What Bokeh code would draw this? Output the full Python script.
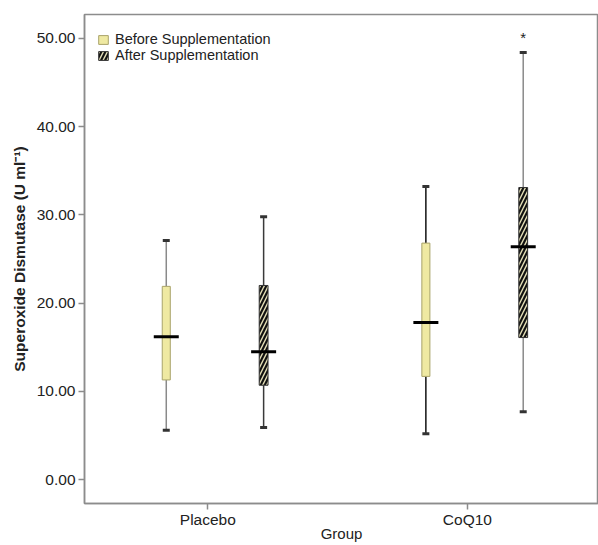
from bokeh.plotting import figure
from bokeh.models import ColumnDataSource, FixedTicker, NumeralTickFormatter, Legend, LegendItem, Range1d
from bokeh.core.properties import value
from bokeh.embed import file_html
from bokeh.resources import INLINE

groups = ["Placebo", "CoQ10"]
phases = ["Before Supplementation", "After Supplementation"]
x_title = "Group"
y_title = "Superoxide Dismutase (U ml\u207b\u00b9)"

# per box: Placebo-before, Placebo-after, CoQ10-before, CoQ10-after
box_group = [0, 0, 1, 1]
box_phase = [0, 1, 0, 1]
whisk_low = [5.6, 5.9, 5.2, 7.7]
q1 = [11.3, 10.7, 11.7, 16.1]
median = [16.2, 14.5, 17.8, 26.4]
q3 = [21.9, 22.0, 26.8, 33.1]
whisk_high = [27.1, 29.8, 33.2, 48.4]
star_value = 50.1

offsets = [-0.16, 0.215]
xs = [g + 1 + offsets[ph] for g, ph in zip(box_group, box_phase)]
whisk_col = ["#8a8a8a", "#3a3a3a", "#111111", "#8a8a8a"]

src = ColumnDataSource(dict(x=xs, lo=whisk_low, q1=q1, med=median, q3=q3, hi=whisk_high, wc=whisk_col))

p = figure(width=598, height=545, output_backend="svg", toolbar_location=None,
           x_range=Range1d(0.525, 2.505), y_range=Range1d(-2.7, 52.7),
           min_border_left=84, min_border_top=14, min_border_bottom=42, min_border_right=0)
p.xgrid.visible = False
p.ygrid.visible = False
p.outline_line_color = "#8c8c8c"
p.outline_line_width = 1.5
p.background_fill_color = "white"

# whiskers
p.segment(x0="x", y0="lo", x1="x", y1="q1", source=src, line_color="wc", line_width=1.5)
p.segment(x0="x", y0="q3", x1="x", y1="hi", source=src, line_color="wc", line_width=1.5)
# caps
p.rect(x="x", y="lo", width=7, height=3, width_units="screen", height_units="screen", source=src,
       fill_color="#333333", line_color=None)
p.rect(x="x", y="hi", width=7, height=3, width_units="screen", height_units="screen", source=src,
       fill_color="#333333", line_color=None)

bsrc = ColumnDataSource(dict(x=[xs[0], xs[2]], q1=[q1[0], q1[2]], q3=[q3[0], q3[2]]))
asrc = ColumnDataSource(dict(x=[xs[1], xs[3]], q1=[q1[1], q1[3]], q3=[q3[1], q3[3]]))
r_before = p.vbar(x="x", bottom="q1", top="q3", width=0.031, source=bsrc,
                  fill_color="#efe9a2", line_color="#a9a36a", line_width=1)
r_after = p.vbar(x="x", bottom="q1", top="q3", width=0.034, source=asrc,
                 fill_color="#111111", line_color="#333333", line_width=1,
                 hatch_pattern="right_diagonal_line", hatch_color="#e6e1b8",
                 hatch_scale=8, hatch_weight=1.4)

# medians
p.rect(x="x", y="med", width=25, height=3, width_units="screen", height_units="screen",
       source=src, fill_color="black", line_color=None)

# significance star
p.text(x=[xs[3]], y=[star_value], text=["*"], text_align="center", text_baseline="middle",
       text_font=value("Liberation Sans"), text_font_size="15px", text_color="#222222")

# axes
p.xaxis.ticker = FixedTicker(ticks=[1, 2])
p.xaxis.major_label_overrides = {1: groups[0], 2: groups[1]}
p.xaxis.axis_label = x_title
p.yaxis.ticker = FixedTicker(ticks=[0, 10, 20, 30, 40, 50])
p.yaxis.formatter = NumeralTickFormatter(format="0.00")
p.yaxis.axis_label = y_title
for ax in (p.xaxis[0], p.yaxis[0]):
    ax.axis_line_color = "#8c8c8c"
    ax.axis_line_width = 1.5
    ax.major_tick_line_color = "#8c8c8c"
    ax.major_tick_line_width = 1.5
    ax.major_tick_out = 6
    ax.major_tick_in = 0
    ax.minor_tick_line_color = None
    ax.major_label_text_font = "Liberation Sans"
    ax.major_label_text_font_size = "15.5px"
    ax.major_label_text_color = "#222222"
    ax.axis_label_text_font = "Liberation Sans"
    ax.axis_label_text_font_size = "15px"
    ax.axis_label_text_color = "#222222"
    ax.axis_label_text_font_style = "normal"
p.yaxis.axis_label_text_font_style = "bold"
p.yaxis.axis_label_text_font_size = "15.5px"
p.yaxis.axis_label_standoff = 6
p.yaxis.major_label_standoff = 3
p.xaxis.major_label_standoff = 1
p.xaxis.axis_label_standoff = -6

legend = Legend(items=[LegendItem(label=phases[0], renderers=[r_before]),
                       LegendItem(label=phases[1], renderers=[r_after])],
                location=(13, 440), border_line_color=None, background_fill_alpha=0,
                glyph_width=12, glyph_height=11, label_height=11, spacing=0, padding=0,
                margin=0, label_standoff=6,
                label_text_font="Liberation Sans", label_text_font_size="14.5px",
                label_text_color="#222222")
p.add_layout(legend)

open("out.html", "w").write(file_html(p, INLINE))
